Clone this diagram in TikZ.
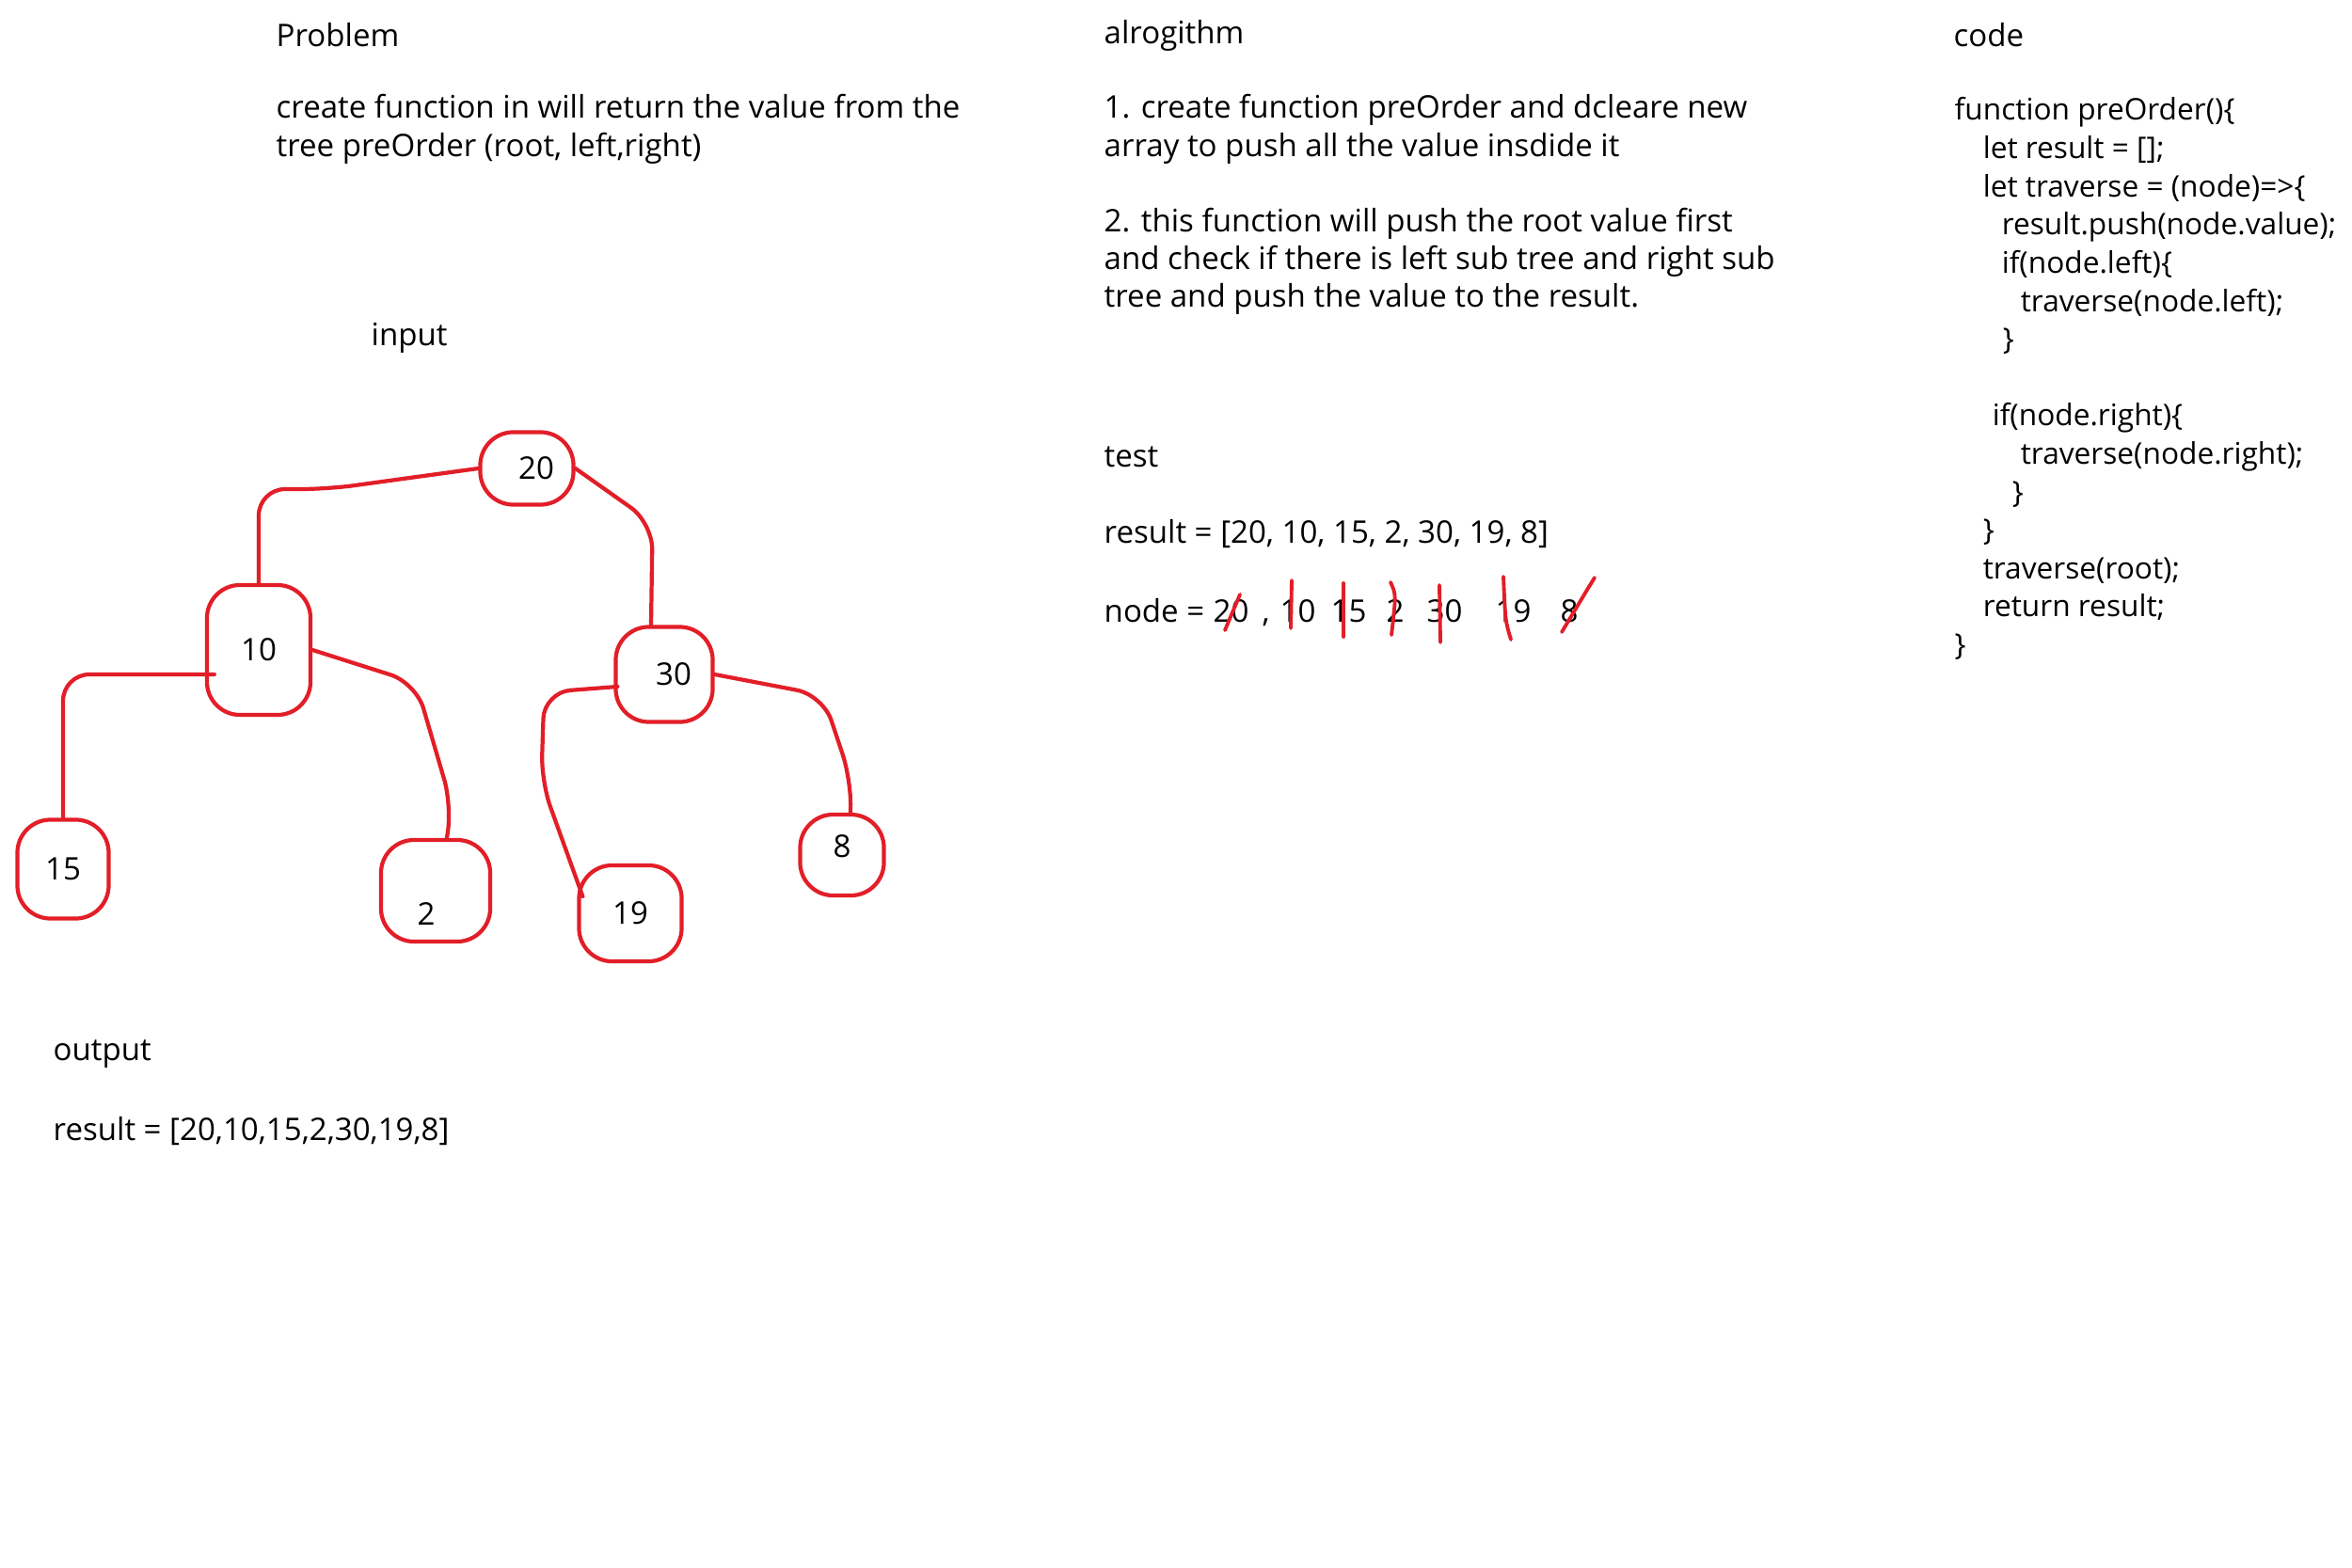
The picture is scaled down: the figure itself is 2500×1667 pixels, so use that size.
\documentclass[tikz,border=0pt]{standalone}
\usepackage{fontspec}
\setmainfont{Open Sans}
\usetikzlibrary{positioning, calc}

\definecolor{inkred}{RGB}{226,30,40}
\newcommand{\bodyfont}{\fontsize{9.4}{11.4}\selectfont}
\newcommand{\codefont}{\fontsize{9}{11.55}\selectfont}

\begin{document}
\begin{tikzpicture}[
    x=0.01cm, y=-0.01cm,
    txt/.style={anchor=west, inner sep=0pt, font=\bodyfont},
    para/.style={anchor=north west, inner sep=0pt, align=left, font=\bodyfont},
    blob/.style={draw=inkred, line width=1.2pt, rounded corners=10pt, inner sep=0pt, font=\bodyfont},
    link/.style={draw=inkred, line width=1.2pt, rounded corners=8pt, line cap=round, line join=round},
    strike/.style={draw=inkred, line width=1.1pt, line cap=round},
]

\useasboundingbox[fill=white] (0,0) rectangle (2500,1667);

% Problem
\node[txt] (prob) at (293,37) {Problem};
\node[para] (probtxt) at (293,100) {create function in will return the value from the\\
tree preOrder (root, left,right)};

% Input tree
\node[txt] (input) at (394,359) {input};

\node[blob, minimum width=0.99cm, minimum height=0.77cm] (n20) at (560,498) {\hspace*{0.2cm}20};
\node[blob, minimum width=1.10cm, minimum height=1.38cm] (n10) at (275,691) {10};
\node[blob, minimum width=1.03cm, minimum height=1.01cm] (n30) at (706,717) {\hspace*{0.2cm}30};
\node[blob, minimum width=0.97cm, minimum height=1.05cm] (n15) at (67,924) {15};
\node[blob, minimum width=1.16cm, minimum height=1.08cm] (n2) at (463,947) {\raisebox{-0.36cm}[0pt][0pt]{2}\hspace*{0.2cm}};
\node[blob, minimum width=1.09cm, minimum height=1.02cm] (n19) at (670,971) {19};
\node[blob, minimum width=0.89cm, minimum height=0.86cm] (n8) at (895,909) {\raisebox{-0.02cm}[0pt][0pt]{8}};

\draw[link] (n20.west) -- ++(-160,22) -| (n10.north);
\draw[link] (n20.east) -- ++(82,58) -- ($(n30.north)+(-14,0)$);
\draw[link] ($(n10.west)+(10,26)$) -| (n15.north);
\draw[link] (n10.east) -- ++(110,35) -- ++(38,130) -- ($(n2.north)+(12,0)$);
\draw[link] ($(n30.west)+(4,13)$) -- ++(-78,6) -- ++(-3,95) -- ($(n19.west)+(6,-18)$);
\draw[link] (n30.east) -- ++(115,22) -- ++(30,90) -- ($(n8.north)+(9,0)$);

% Output
\node[txt] (out) at (56,1121) {output};
\node[txt, below=0.81cm of out.west, anchor=west] (outres) {result = [20,10,15,2,30,19,8]};

% Algorithm
\node[txt] (alg) at (1173,38) {alrogithm};
\node[para] (algtxt) at (1173,100) {1. create function preOrder and dcleare new\\
array to push all the value insdide it\\[11.4pt]
2. this function will push the root value first\\
and check if there is left sub tree and right sub\\
tree and push the value to the result.};

% Test
\node[txt] (test) at (1173,486) {test};
\node[txt, below=0.82cm of test.west, anchor=west] (testres) {result = [20, 10, 15, 2, 30, 19, 8]};
\node[txt, below=0.81cm of testres.west, anchor=west] (visit) {node =};
\begin{scope}[xshift=0.1cm]
\foreach \v/\x in {20/1279, 10/1350, 15/1404, 2/1463, 30/1506, 19/1579, 8/1648}
  \node[txt, anchor=base west] (v\v) at (\x,0 |- visit.base) {\v};
\node[txt, anchor=base west] (comma) at (1331,0 |- visit.base) {,};

\draw[strike] (1292,670) -- (1308,632);
\draw[strike] (1363,617) -- (1362,668);
\draw[strike] (1418,620) -- (1418,677);
\draw[strike] (1468,619) .. controls (1474,632) .. (1469,675);
\draw[strike] (1520,622) -- (1521,683);
\draw[strike] (1588,613) .. controls (1590,660) .. (1596,680);
\draw[strike] (1650,672) -- (1677,627) -- (1685,614);
\end{scope}

% Code
\node[txt] (code) at (2076,37) {code};
\node[para, font=\codefont] (codetxt) at (2077,103) {function preOrder()\{\\
\hspace*{0.30cm}let result = [];\\
\hspace*{0.30cm}let traverse = (node)=>\{\\
\hspace*{0.50cm}result.push(node.value);\\
\hspace*{0.50cm}if(node.left)\{\\
\hspace*{0.70cm}traverse(node.left);\\
\hspace*{0.51cm}\}\\[11.55pt]
\hspace*{0.40cm}if(node.right)\{\\
\hspace*{0.70cm}traverse(node.right);\\
\hspace*{0.61cm}\}\\
\hspace*{0.30cm}\}\\
\hspace*{0.30cm}traverse(root);\\
\hspace*{0.30cm}return result;\\
\}};

\end{tikzpicture}
\end{document}
